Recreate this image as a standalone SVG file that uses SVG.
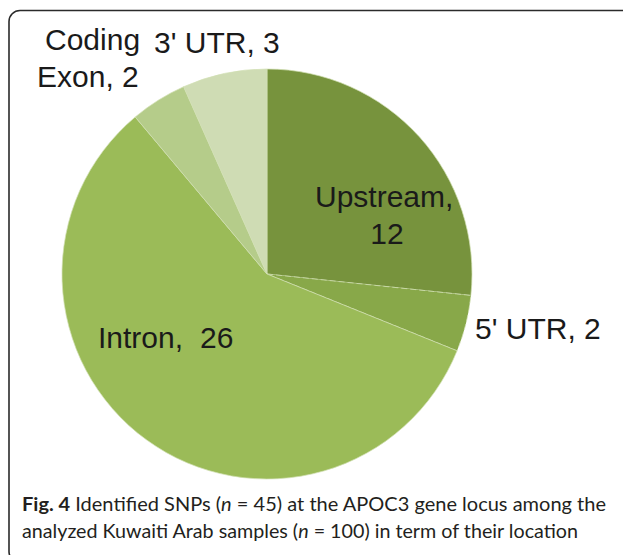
<svg xmlns="http://www.w3.org/2000/svg" width="623" height="555" viewBox="0 0 623 555">
  <style>
    .lbl { font-family: "Liberation Sans", Arial, sans-serif; font-size: 30px; fill: #1a1a1a; }
    .cap { font-family: Lato, "Open Sans", sans-serif; font-size: 19px; fill: #231f20; }
    .slice { stroke: #d2e0b4; stroke-width: 1; stroke-opacity: 0.7; }
  </style>
  <rect width="623" height="555" fill="#ffffff"/>
  <!-- figure frame: open on the right, rounded on the left -->
  <rect x="9" y="10.5" width="700" height="552" rx="11" ry="11" fill="none" stroke="#2b2b2b" stroke-width="1.6"/>

  <!-- pie chart, 45 SNPs by location, clockwise from 12 o'clock -->
  <g id="slice-upstream">
    <path class="slice" fill="#77933d" d="M267 274 L267 69 A205 205 0 0 1 470.88 295.43 Z"/>
  </g>
  <g id="slice-5utr">
    <path class="slice" fill="#88a849" d="M267 274 L470.88 295.43 A205 205 0 0 1 457.07 350.79 Z" stroke-dasharray="6 3"/>
  </g>
  <g id="slice-intron">
    <path class="slice" fill="#9bbb58" d="M267 274 L457.07 350.79 A205 205 0 1 1 135.23 116.96 Z"/>
  </g>
  <g id="slice-coding-exon">
    <path class="slice" fill="#b5cc8a" d="M267 274 L135.23 116.96 A205 205 0 0 1 183.62 86.72 Z"/>
  </g>
  <g id="slice-3utr">
    <path class="slice" fill="#cfdcb4" d="M267 274 L183.62 86.72 A205 205 0 0 1 267 69 Z"/>
  </g>

  <!-- slice labels -->
  <g id="labels">
    <text class="lbl" x="45" y="50">Coding</text>
    <text class="lbl" x="37" y="87">Exon, 2</text>
    <text class="lbl" x="154" y="53">3' UTR, 3</text>
    <text class="lbl" x="315" y="207">Upstream,</text>
    <text class="lbl" x="387" y="244" text-anchor="middle">12</text>
    <text class="lbl" x="475" y="339">5' UTR, 2</text>
    <text class="lbl" x="98" y="348">Intron,</text>
    <text class="lbl" x="200" y="348">26</text>
  </g>

  <!-- caption -->
  <g id="caption">
    <text class="cap" x="22" y="511" textLength="584" lengthAdjust="spacingAndGlyphs"><tspan font-weight="bold">Fig. 4</tspan> Identified SNPs (<tspan font-style="italic">n</tspan> = 45) at the APOC3 gene locus among the</text>
    <text class="cap" x="22" y="538" textLength="556" lengthAdjust="spacingAndGlyphs">analyzed Kuwaiti Arab samples (<tspan font-style="italic">n</tspan> = 100) in term of their location</text>
  </g>
</svg>
